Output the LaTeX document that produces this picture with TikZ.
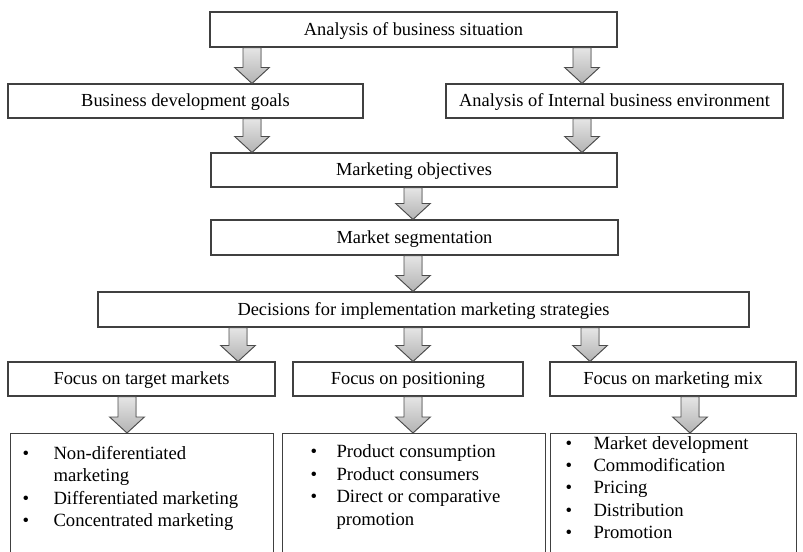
\documentclass[tikz,border=0pt]{standalone}
\usepackage{fontspec}
\setmainfont{Liberation Serif}

\newlength{\bulind}
\newlength{\listind}
\newcommand{\litem}[1]{\par\hangindent=\listind\hangafter=1\noindent\makebox[\listind][l]{\hspace{\bulind}\textbullet}#1}

% block arrow from the bottom of one box to the top of another, at x = #1
\newcommand{\blockarrow}[3]{%
  \coordinate (ax) at (#1,0);
  \coordinate (as) at (ax |- #2.south);
  \coordinate (at) at (ax |- #3.north);
  \filldraw[grayarrow] ([xshift=-6.75pt]as) -- ([xshift=6.75pt]as)
    -- ([xshift=6.75pt,yshift=12pt]at) -- ([xshift=13pt,yshift=12pt]at)
    -- (at) -- ([xshift=-13pt,yshift=12pt]at)
    -- ([xshift=-6.75pt,yshift=12pt]at) -- cycle;%
}

\tikzset{
  stepbox/.style={draw=black!75, line width=0.8pt, rectangle, inner sep=0pt,
    text height=10pt, text depth=1.5pt, font=\fontsize{13.8}{16}\selectfont},
  listbox/.style={draw=black!75, line width=0.8pt, rectangle, inner sep=0pt,
    anchor=north west, align=left, font=\fontsize{14}{16.8}\selectfont},
  grayarrow/.style={draw=black!70, line width=0.7pt, top color=gray!20, bottom color=gray!60},
}

\begin{document}
\begin{tikzpicture}[x=0.75pt,y=-0.75pt]
  \useasboundingbox (0,0) rectangle (803,551);
  \clip (0,0) rectangle (803,551);

  % Drawing box sit
  \node[stepbox, minimum width=305.25pt, minimum height=26.25pt] (sit) at (413.5,29.5) {Analysis of business situation};

  % Drawing boxes goals and intern
  \node[stepbox, minimum width=266.25pt, minimum height=25.5pt] (goals) at (185.5,101) {Business development goals};
  \node[stepbox, minimum width=252.75pt, minimum height=25.5pt] (intern) at (614.5,101) {Analysis of Internal business environment};

  % Drawing boxes obj and seg
  \node[stepbox, minimum width=304.5pt, minimum height=25.5pt] (obj) at (414,170) {Marketing objectives};
  \node[stepbox, minimum width=305.25pt, minimum height=26.25pt] (seg) at (414.5,237.5) {Market segmentation};

  % Drawing box dec
  \node[stepbox, minimum width=488.25pt, minimum height=26.25pt] (dec) at (423.5,309.5) {Decisions for implementation marketing strategies};

  % Drawing focus boxes
  \node[stepbox, minimum width=200.25pt, minimum height=25.5pt] (ftarget) at (141.5,379) {Focus on target markets};
  \node[stepbox, minimum width=172.5pt, minimum height=25.5pt] (fpos) at (408,379) {Focus on positioning};
  \node[stepbox, minimum width=184.5pt, minimum height=25.5pt] (fmix) at (673,379) {Focus on marketing mix};

  % Drawing list boxes
  \node[listbox] (ltarget) at (10,433) {\parbox[t][110pt][t]{197.25pt}{\raggedright
    \setlength{\bulind}{9pt}\setlength{\listind}{32.25pt}\vspace*{9.5pt}%
    \litem{Non-diferentiated\newline marketing}
    \litem{Differentiated marketing}
    \litem{Concentrated marketing}}};
  \node[listbox] (lpos) at (282,433) {\parbox[t][110pt][t]{197.25pt}{\raggedright
    \setlength{\bulind}{21pt}\setlength{\listind}{40.5pt}\vspace*{8.5pt}%
    \litem{Product consumption}
    \litem{Product consumers}
    \litem{Direct or comparative\newline promotion}}};
  \node[listbox] (lmix) at (550,433) {\parbox[t][110pt][t]{184.5pt}{\raggedright
    \setlength{\bulind}{11.25pt}\setlength{\listind}{32.25pt}\vspace*{2pt}%
    \litem{Market development}
    \litem{Commodification}
    \litem{Pricing}
    \litem{Distribution}
    \litem{Promotion}}};

  % Drawing arrows
  \blockarrow{252}{sit}{goals}
  \blockarrow{582}{sit}{intern}
  \blockarrow{252}{goals}{obj}
  \blockarrow{582}{intern}{obj}
  \blockarrow{413}{obj}{seg}
  \blockarrow{413}{seg}{dec}
  \blockarrow{238}{dec}{ftarget}
  \blockarrow{413}{dec}{fpos}
  \blockarrow{590}{dec}{fmix}
  \blockarrow{127}{ftarget}{ltarget}
  \blockarrow{413}{fpos}{lpos}
  \blockarrow{690}{fmix}{lmix}
\end{tikzpicture}
\end{document}
